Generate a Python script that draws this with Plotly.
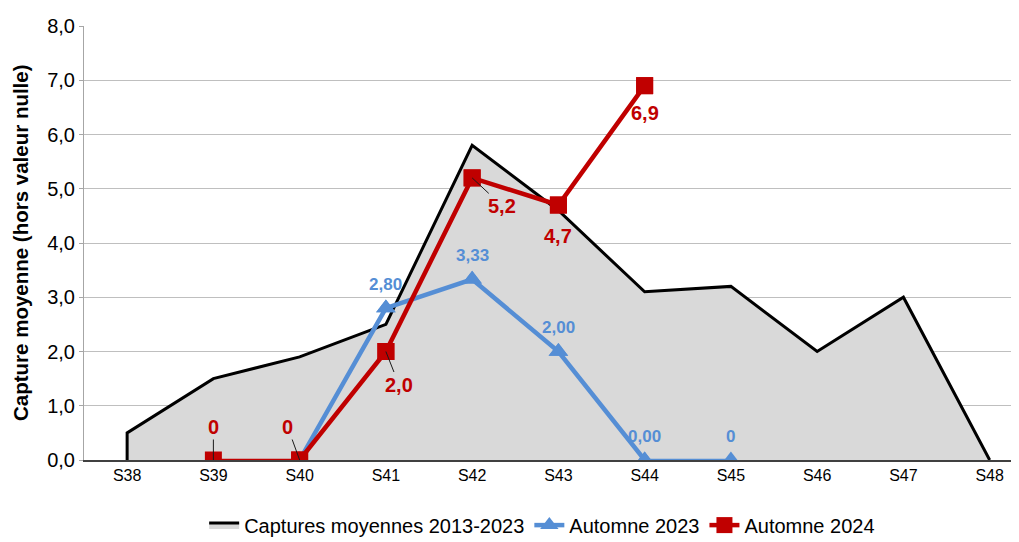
import plotly.graph_objects as go

weeks = ["S38", "S39", "S40", "S41", "S42", "S43", "S44", "S45", "S46", "S47", "S48"]
moyenne_2013_2023 = [0.5, 1.5, 1.9, 2.5, 5.8, 4.6, 3.1, 3.2, 2.0, 3.0, 0.0]
automne_2023 = [None, None, 0.0, 2.80, 3.33, 2.00, 0.00, 0.0, None, None, None]
automne_2023_labels = [None, None, None, "2,80", "3,33", "2,00", "0,00", "0", None, None, None]
automne_2024 = [None, 0.0, 0.0, 2.0, 5.2, 4.7, 6.9, None, None, None, None]
automne_2024_labels = [None, "0", "0", "2,0", "5,2", "4,7", "6,9", None, None, None, None]

y_ticks = [0, 1, 2, 3, 4, 5, 6, 7, 8]

BLUE = "#558ED5"
RED = "#C00000"
FONT = "Liberation Sans, Arial, sans-serif"


def thick_part(vals):
    out = []
    for i, v in enumerate(vals):
        if v is None:
            out.append(None)
            continue
        prev_v = vals[i - 1] if i > 0 else None
        next_v = vals[i + 1] if i < len(vals) - 1 else None
        if v > 0 or (prev_v is not None and prev_v > 0) or (next_v is not None and next_v > 0):
            out.append(v)
        else:
            out.append(None)
    return out


fig = go.Figure()

# Area: closed at the left edge down to zero
fig.add_trace(go.Scatter(
    x=[weeks[0]] + weeks, y=[0.0] + moyenne_2013_2023,
    mode="lines", fill="tozeroy", fillcolor="#D9D9D9",
    line=dict(color="black", width=3),
    name="Captures moyennes 2013-2023",
))

# Automne 2023
fig.add_trace(go.Scatter(
    x=weeks, y=automne_2023, mode="lines",
    line=dict(color=BLUE, width=2.5), showlegend=False, hoverinfo="skip",
))
fig.add_trace(go.Scatter(
    x=weeks, y=thick_part(automne_2023), mode="lines+markers",
    line=dict(color=BLUE, width=4.5),
    marker=dict(symbol="triangle-up", size=17, color=BLUE),
    name="Automne 2023", connectgaps=False,
))
fig.add_trace(go.Scatter(
    x=weeks, y=automne_2023, mode="markers",
    marker=dict(symbol="triangle-up", size=17, color=BLUE),
    showlegend=False,
))

# Automne 2024
fig.add_trace(go.Scatter(
    x=weeks, y=automne_2024, mode="lines",
    line=dict(color=RED, width=2.5), showlegend=False, hoverinfo="skip",
))
fig.add_trace(go.Scatter(
    x=weeks, y=thick_part(automne_2024), mode="lines+markers",
    line=dict(color=RED, width=4.5),
    marker=dict(symbol="square", size=17, color=RED),
    name="Automne 2024", connectgaps=False,
))
fig.add_trace(go.Scatter(
    x=weeks, y=automne_2024, mode="markers",
    marker=dict(symbol="square", size=17, color=RED),
    showlegend=False,
))

annotations = []
# Blue labels above points
for w, v, t in zip(weeks, automne_2023, automne_2023_labels):
    if t is None:
        continue
    annotations.append(dict(x=w, y=v, text=t, showarrow=False, yshift=24,
                            font=dict(family=FONT, size=17, color=BLUE, weight="bold")))

# Red labels with offsets (pixels)
red_offsets = {
    "S39": (0, -33, True),
    "S40": (-12, -33, True),
    "S41": (13, 33, True),
    "S42": (30, 28, True),
    "S43": (0, 31, False),
    "S44": (0, 27, False),
}
for w, v, t in zip(weeks, automne_2024, automne_2024_labels):
    if t is None:
        continue
    ax, ay, arrow = red_offsets[w]
    if arrow:
        annotations.append(dict(x=w, y=v, text=t, showarrow=True, ax=ax, ay=ay,
                                arrowhead=0, arrowwidth=1, arrowcolor="#1a1a1a", standoff=0,
                                font=dict(family=FONT, size=20, color=RED, weight="bold")))
    else:
        annotations.append(dict(x=w, y=v, text=t, showarrow=False, yshift=-ay,
                                font=dict(family=FONT, size=20, color=RED, weight="bold")))

# Y axis title as paper annotation
annotations.append(dict(
    xref="paper", yref="paper", x=-64 / 935, y=0.5, xanchor="center", yanchor="middle",
    text="Capture moyenne (hors valeur nulle)", textangle=-90, showarrow=False,
    font=dict(family=FONT, size=20.5, color="black", weight="bold"),
))

fig.update_layout(
    width=1011, height=534,
    margin=dict(l=76, r=0, t=18, b=82, autoexpand=False),
    paper_bgcolor="white", plot_bgcolor="white",
    separators=", ",
    font=dict(family=FONT, color="black"),
    showlegend=True,
    legend=dict(orientation="h", x=0.49, xanchor="center", y=-0.15, yanchor="middle",
                font=dict(family=FONT, size=20, color="black"), itemwidth=30,
                tracegroupgap=0),
    annotations=annotations,
)

fig.update_xaxes(
    type="category", categoryorder="array", categoryarray=weeks,
    range=[-0.5, 10.34], showgrid=False, automargin=False,
    showline=True, linecolor="#404040", linewidth=1.5,
    ticks="",
    tickfont=dict(family=FONT, size=16, color="black"),
    zeroline=False,
)
fig.update_yaxes(
    range=[0, 8], tickvals=y_ticks, tickformat=".1f", automargin=False,
    showgrid=True, gridcolor="#BFBFBF", gridwidth=1.3,
    showline=True, linecolor="#A6A6A6", linewidth=1,
    ticks="outside", ticklen=4, tickcolor="#A6A6A6",
    tickfont=dict(family=FONT, size=20, color="black"),
    zeroline=False,
)

fig.write_html("out.html")
